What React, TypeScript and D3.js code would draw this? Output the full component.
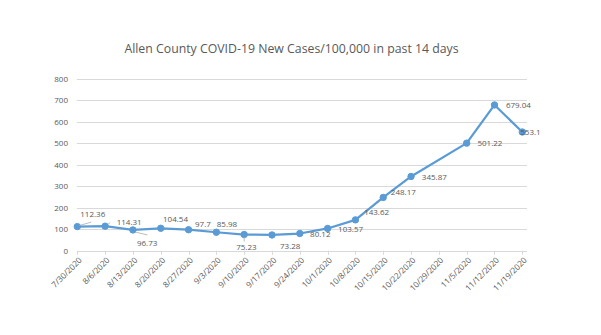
import React from "react";
import * as d3 from "d3";

const categories = [
  "7/30/2020", "8/6/2020", "8/13/2020", "8/20/2020", "8/27/2020", "9/3/2020",
  "9/10/2020", "9/17/2020", "9/24/2020", "10/1/2020", "10/8/2020", "10/15/2020",
  "10/22/2020", "10/29/2020", "11/5/2020", "11/12/2020", "11/19/2020",
];
const values: (number | null)[] = [
  112.36, 114.31, 96.73, 104.54, 97.7, 85.98, 75.23, 73.28, 80.12, 103.57,
  143.62, 248.17, 345.87, null, 501.22, 679.04, 553.1,
];
const yTicks = [0, 100, 200, 300, 400, 500, 600, 700, 800];
const title = "Allen County COVID-19 New Cases/100,000 in past 14 days";

// data label offsets (text start dx, text center dy) relative to the point
const labelOffsets: [number, number][] = [
  [3, -12], [11.6, -3.5], [4, 12.8], [2.3, -9], [6.5, -5.7], [0.4, -8],
  [-8, 12.7], [8, 11.7], [10.3, 0.8], [10.5, 0.8], [8.7, -8], [7.6, -5.7],
  [10.8, 0.8], [0, 0], [10.8, 0], [11.4, 0], [-2, 0],
];
// leader lines: [index, x1off, y1off, x2off, y2off]
const leaders: [number, number, number, number, number][] = [
  [0, 2, -1, 14, -4.5],
  [1, 3, -2, 5, -3.5],
  [2, 2, 2, 14.5, 5],
  [6, 0, 2, 0, 7],
];

const W = 601, H = 335;
const left = 77.3, right = 522.3, top = 79, bottom = 250.7;

export default function App() {
  const x = d3.scalePoint<string>().domain(categories).range([left, right]);
  const y = d3.scaleLinear().domain([0, 800]).range([bottom, top]);
  const pts = categories
    .map((c, i) => ({ c, i, v: values[i] }))
    .filter((d) => d.v !== null) as { c: string; i: number; v: number }[];
  const line = d3
    .line<{ c: string; v: number }>()
    .x((d) => x(d.c)!)
    .y((d) => y(d.v));
  const font = "'Open Sans', sans-serif";
  const gray = "#595959";
  return (
    <svg
      width={W}
      height={H}
      style={{ position: "absolute", left: 0, top: 0, background: "#fff" }}
    >
      <text
        x={291.5}
        y={53}
        textAnchor="middle"
        fontFamily={font}
        fontSize={12.3}
        fill={gray}
      >
        {title}
      </text>
      {yTicks.map((t) => (
        <g key={t}>
          <line
            x1={left - 0.5}
            x2={527}
            y1={Math.round(y(t)) + 0.5}
            y2={Math.round(y(t)) + 0.5}
            stroke="#D9D9D9"
            strokeWidth={1}
          />
          <text
            x={68}
            y={y(t)}
            dy="0.35em"
            textAnchor="end"
            fontFamily={font}
            fontSize={8}
            fill={gray}
          >
            {t}
          </text>
        </g>
      ))}
      {categories.map((c) => (
        <g key={c}>
          <line
            x1={Math.round(x(c)!) + 0.5}
            x2={Math.round(x(c)!) + 0.5}
            y1={bottom}
            y2={bottom + 4}
            stroke="#D9D9D9"
          />
          <text
            transform={`translate(${x(c)! + 3},${bottom + 8}) rotate(-45)`}
            textAnchor="end"
            dy="0.35em"
            fontFamily={font}
            fontSize={8.2}
            fill={gray}
          >
            {c}
          </text>
        </g>
      ))}
      <path
        d={line(pts) || ""}
        fill="none"
        stroke="#5B9BD5"
        strokeWidth={2.25}
        strokeLinejoin="round"
      />
      {pts.map((d) => (
        <circle
          key={d.c}
          cx={x(d.c)}
          cy={y(d.v)}
          r={3.2}
          fill="#5B9BD5"
          stroke="#5B9BD5"
        />
      ))}
      {leaders.map(([i, x1, y1, x2, y2]) => {
        const px = x(categories[i])!;
        const py = y(values[i] as number);
        return (
          <line
            key={i}
            x1={px + x1}
            y1={py + y1}
            x2={px + x2}
            y2={py + y2}
            stroke="#A6A6A6"
            strokeWidth={0.75}
          />
        );
      })}
      {pts.map((d) => {
        const [dx, dy] = labelOffsets[d.i];
        return (
          <text
            key={d.c}
            x={x(d.c)! + dx}
            y={y(d.v) + dy}
            dy="0.35em"
            fontFamily={font}
            fontSize={8}
            fill={gray}
          >
            {String(d.v)}
          </text>
        );
      })}
    </svg>
  );
}
